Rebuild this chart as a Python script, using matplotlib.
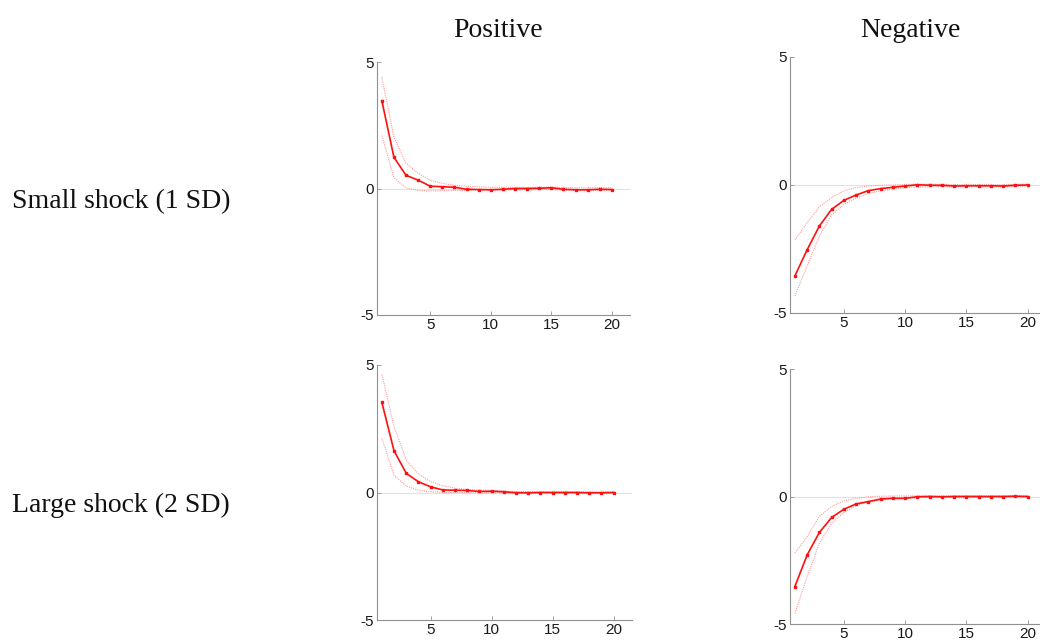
import matplotlib
matplotlib.use('Agg')
import matplotlib.pyplot as plt
import numpy as np

plt.rcParams['axes.unicode_minus'] = False

periods = np.arange(1, 21)

# small shock, positive
small_pos = [3.47, 1.23, 0.52, 0.33, 0.09, 0.07, 0.05, -0.03, -0.04, -0.05,
             -0.03, 0.0, 0.0, 0.01, 0.03, -0.03, -0.05, -0.05, -0.03, -0.04]
small_pos_hi = [4.4, 2.02, 1.0, 0.6, 0.33, 0.2, 0.13, 0.09, 0.07, 0.05,
                0.05, 0.05, 0.04, 0.05, 0.06, 0.04, 0.03, 0.03, 0.04, 0.03]
small_pos_lo = [2.09, 0.42, 0.03, -0.08, -0.09, -0.09, -0.08, -0.08, -0.07, -0.07,
                -0.06, -0.05, -0.05, -0.04, -0.03, -0.06, -0.08, -0.08, -0.07, -0.07]

# small shock, negative
small_neg = [-3.55, -2.53, -1.60, -0.95, -0.60, -0.39, -0.22, -0.14, -0.09, -0.04,
             0.01, -0.01, -0.01, -0.04, -0.03, -0.03, -0.03, -0.04, -0.01, 0.0]
small_neg_hi = [-2.15, -1.47, -0.85, -0.49, -0.23, -0.10, -0.04, -0.01, 0.0, 0.02,
                0.04, 0.03, 0.03, 0.01, 0.02, 0.02, 0.02, 0.01, 0.03, 0.04]
small_neg_lo = [-4.34, -3.16, -1.99, -1.17, -0.76, -0.52, -0.33, -0.22, -0.16, -0.10,
                -0.08, -0.07, -0.06, -0.08, -0.07, -0.07, -0.07, -0.08, -0.05, -0.04]

# large shock, positive
large_pos = [3.53, 1.63, 0.75, 0.42, 0.22, 0.10, 0.09, 0.08, 0.04, 0.05,
             0.03, -0.01, -0.01, 0.0, 0.0, 0.0, 0.0, -0.01, -0.01, 0.0]
large_pos_hi = [4.63, 2.58, 1.27, 0.72, 0.42, 0.26, 0.17, 0.12, 0.09, 0.08,
                0.06, 0.04, 0.03, 0.03, 0.03, 0.03, 0.03, 0.02, 0.02, 0.03]
large_pos_lo = [2.12, 0.68, 0.25, 0.09, 0.03, 0.0, 0.0, 0.0, -0.01, 0.0,
                -0.01, -0.04, -0.04, -0.03, -0.03, -0.03, -0.03, -0.04, -0.04, -0.03]

# large shock, negative
large_neg = [-3.53, -2.29, -1.41, -0.82, -0.50, -0.29, -0.20, -0.10, -0.07, -0.07,
             -0.01, 0.0, -0.01, 0.0, 0.0, 0.0, 0.0, 0.0, 0.01, 0.0]
large_neg_hi = [-2.22, -1.57, -0.78, -0.39, -0.17, -0.07, -0.01, 0.01, 0.02, 0.02,
                0.03, 0.03, 0.02, 0.03, 0.03, 0.03, 0.03, 0.03, 0.04, 0.03]
large_neg_lo = [-4.58, -3.14, -1.83, -1.05, -0.63, -0.35, -0.22, -0.13, -0.09, -0.09,
                -0.04, -0.03, -0.04, -0.03, -0.03, -0.03, -0.03, -0.03, -0.02, -0.03]

W, H = 1040, 644
fig = plt.figure(figsize=(W / 100, H / 100), dpi=100)


def add_panel(l, r, t, b, mid, hi, lo):
    ax = fig.add_axes([l / W, 1 - b / H, (r - l) / W, (b - t) / H])
    ax.axhline(0, color='#e2e2e2', lw=0.8, zorder=1)
    ax.plot(periods, hi, color='#ff9a9a', lw=0.8, ls=(0, (1, 1)), zorder=2)
    ax.plot(periods, lo, color='#ff9a9a', lw=0.8, ls=(0, (1, 1)), zorder=2)
    ax.plot(periods, mid, color='#ff1010', lw=1.2, marker='s', ms=1.8, zorder=3)
    ax.set_xlim(0.6, 21.5)
    ax.set_ylim(-5, 5)
    ax.set_xticks([5, 10, 15, 20])
    ax.set_yticks([-5, 0, 5])
    ax.spines['top'].set_visible(False)
    ax.spines['right'].set_visible(False)
    for s in ['left', 'bottom']:
        ax.spines[s].set_color('#909090')
        ax.spines[s].set_linewidth(0.8)
    ax.tick_params(direction='in', length=3, width=0.6, color='#909090',
                   labelsize=11, labelcolor='#1a1a1a', pad=2)
    for lab in ax.get_xticklabels() + ax.get_yticklabels():
        lab.set_family('Liberation Sans')
    return ax


add_panel(377, 630, 62, 315, small_pos, small_pos_hi, small_pos_lo)
add_panel(790, 1046, 57, 313, small_neg, small_neg_hi, small_neg_lo)
add_panel(377, 632, 365, 620, large_pos, large_pos_hi, large_pos_lo)
add_panel(790, 1046, 369, 624, large_neg, large_neg_hi, large_neg_lo)

serif = dict(family='Liberation Serif', fontsize=20, color='#111111')
fig.text(498 / W, 1 - 37 / H, 'Positive', ha='center', va='baseline', **serif)
fig.text(910 / W, 1 - 37 / H, 'Negative', ha='center', va='baseline', **serif)
fig.text(12 / W, 1 - 208 / H, 'Small shock (1 SD)', ha='left', va='baseline', **serif)
fig.text(12 / W, 1 - 512 / H, 'Large shock (2 SD)', ha='left', va='baseline', **serif)

fig.savefig('out.png', dpi=100)
